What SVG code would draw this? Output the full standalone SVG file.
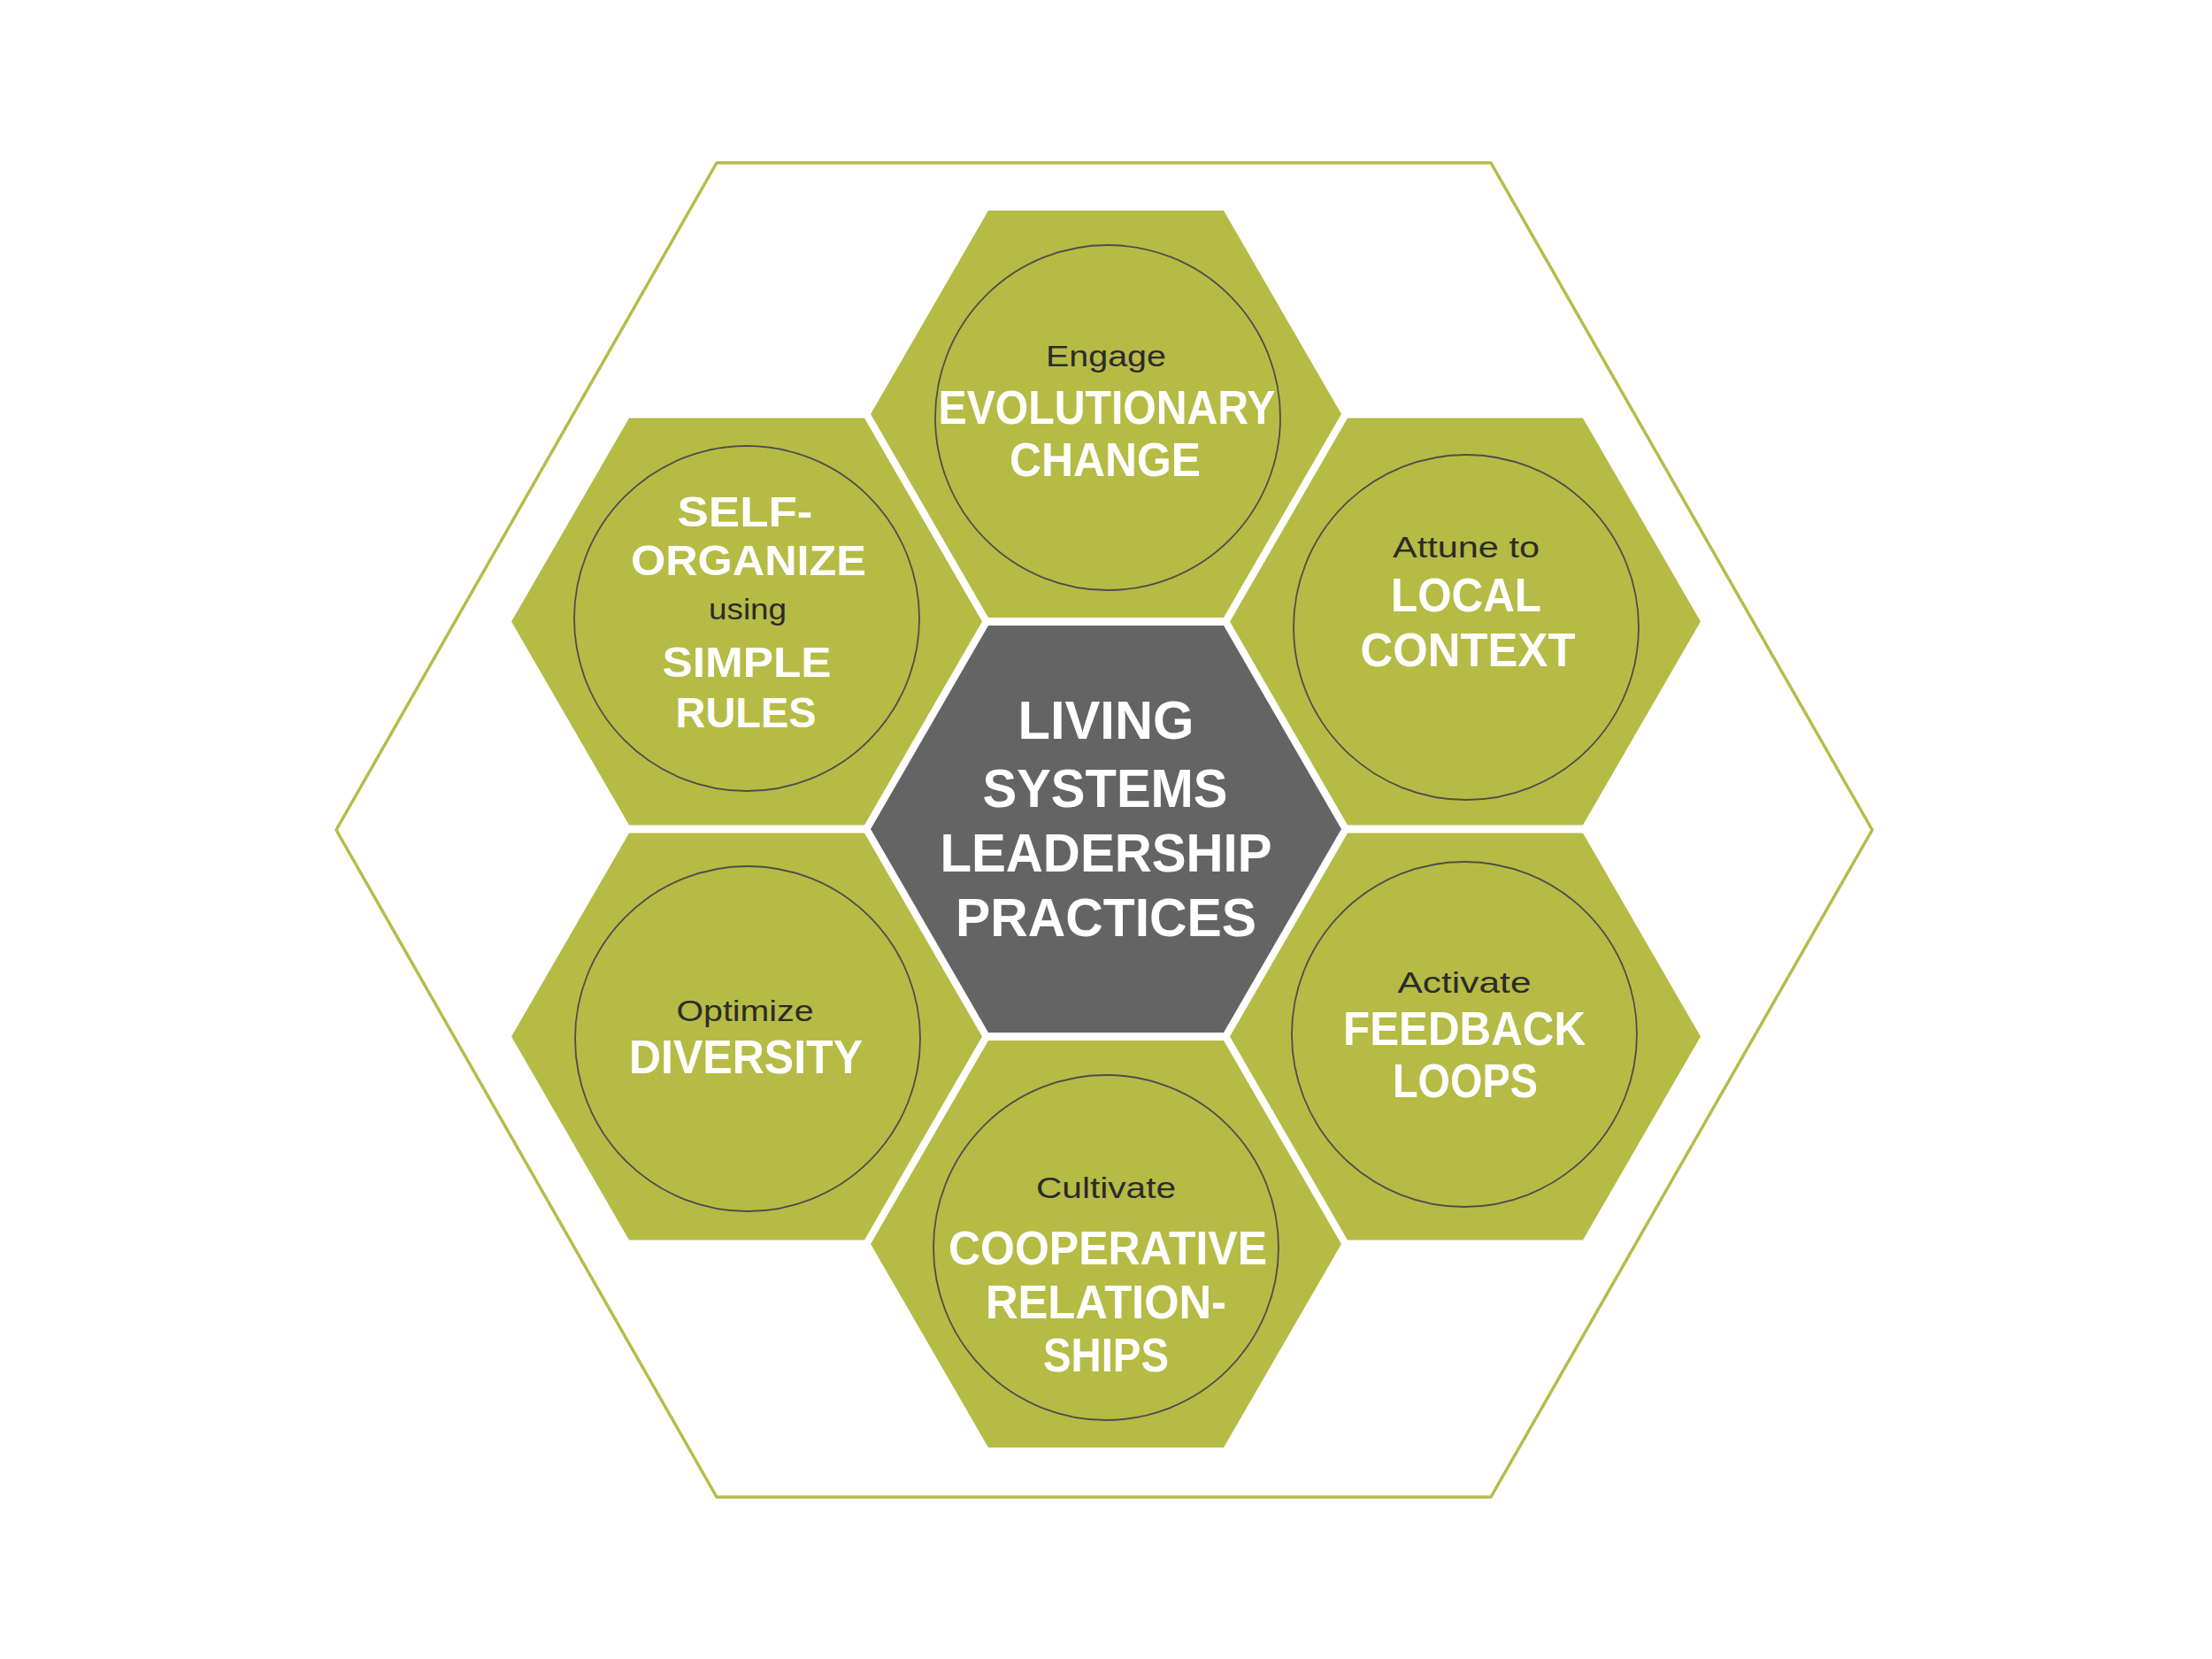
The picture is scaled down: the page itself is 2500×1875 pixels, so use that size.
<svg xmlns="http://www.w3.org/2000/svg" xmlns:xlink="http://www.w3.org/1999/xlink" width="2500" height="1875" viewBox="0 0 2500 1875">
<style>
.frame{fill:none;stroke:#b7bc47;stroke-width:3.5;stroke-linejoin:round}
.hex{fill:#b6bb45}
.core{fill:#646464}
.ring{fill:none;stroke:#4d4d4d;stroke-width:1.8}
.lead{font-family:"Liberation Sans",Arial,sans-serif;font-size:34px;fill:#2b2b2b;text-anchor:middle}
.key{font-family:"Liberation Sans",Arial,sans-serif;font-weight:bold;font-size:54px;fill:#ffffff;text-anchor:middle}
.tight{font-size:49px}
.big{font-size:62px}
</style>
<defs>
<polygon id="hx" points="-266,0 -133,-230 133,-230 266,0 133,230 -133,230"/>
</defs>
<rect width="2500" height="1875" fill="#ffffff"/>
<g id="frame">
<polygon class="frame" points="810,184 1685,184 2116,938 1685,1692 810,1692 380,938"/>
</g>
<g id="connectors"/>
<g id="evolutionary-change">
<use xlink:href="#hx" href="#hx" x="1250" y="468" class="hex"/>
<circle class="ring" cx="1252" cy="472" r="195"/>
<text class="lead" x="1250" y="414" textLength="136" lengthAdjust="spacingAndGlyphs">Engage</text>
<text class="key" x="1251" y="479" textLength="381" lengthAdjust="spacingAndGlyphs">EVOLUTIONARY</text>
<text class="key" x="1249" y="538" textLength="216" lengthAdjust="spacingAndGlyphs">CHANGE</text>
</g>
<g id="self-organize">
<use xlink:href="#hx" href="#hx" x="844" y="702.5" class="hex"/>
<circle class="ring" cx="844" cy="699" r="195"/>
<text class="key tight" x="842" y="595" textLength="153" lengthAdjust="spacingAndGlyphs">SELF-</text>
<text class="key tight" x="846" y="650" textLength="266" lengthAdjust="spacingAndGlyphs">ORGANIZE</text>
<text class="lead" x="845" y="700" textLength="88" lengthAdjust="spacingAndGlyphs">using</text>
<text class="key tight" x="844" y="765" textLength="191" lengthAdjust="spacingAndGlyphs">SIMPLE</text>
<text class="key tight" x="843" y="822" textLength="159" lengthAdjust="spacingAndGlyphs">RULES</text>
</g>
<g id="local-context">
<use xlink:href="#hx" href="#hx" x="1656" y="702.5" class="hex"/>
<circle class="ring" cx="1657" cy="709" r="195"/>
<text class="lead" x="1657" y="630" textLength="166" lengthAdjust="spacingAndGlyphs">Attune to</text>
<text class="key" x="1657" y="691" textLength="170" lengthAdjust="spacingAndGlyphs">LOCAL</text>
<text class="key" x="1659" y="753" textLength="243" lengthAdjust="spacingAndGlyphs">CONTEXT</text>
</g>
<g id="living-systems">
<use xlink:href="#hx" href="#hx" x="1250" y="937" class="core"/>
<text class="key big" x="1250" y="835" textLength="199" lengthAdjust="spacingAndGlyphs">LIVING</text>
<text class="key big" x="1249" y="912" textLength="277" lengthAdjust="spacingAndGlyphs">SYSTEMS</text>
<text class="key big" x="1250" y="985" textLength="375" lengthAdjust="spacingAndGlyphs">LEADERSHIP</text>
<text class="key big" x="1250" y="1058" textLength="340" lengthAdjust="spacingAndGlyphs">PRACTICES</text>
</g>
<g id="diversity">
<use xlink:href="#hx" href="#hx" x="844" y="1171.5" class="hex"/>
<circle class="ring" cx="845" cy="1174" r="195"/>
<text class="lead" x="842" y="1154" textLength="155" lengthAdjust="spacingAndGlyphs">Optimize</text>
<text class="key" x="843" y="1213" textLength="264" lengthAdjust="spacingAndGlyphs">DIVERSITY</text>
</g>
<g id="feedback-loops">
<use xlink:href="#hx" href="#hx" x="1656" y="1171.5" class="hex"/>
<circle class="ring" cx="1655" cy="1169" r="195"/>
<text class="lead" x="1655" y="1122" textLength="151" lengthAdjust="spacingAndGlyphs">Activate</text>
<text class="key" x="1655" y="1181" textLength="274" lengthAdjust="spacingAndGlyphs">FEEDBACK</text>
<text class="key" x="1656" y="1240" textLength="164" lengthAdjust="spacingAndGlyphs">LOOPS</text>
</g>
<g id="cooperative-relationships">
<use xlink:href="#hx" href="#hx" x="1250" y="1406" class="hex"/>
<circle class="ring" cx="1250" cy="1410" r="195"/>
<text class="lead" x="1250" y="1354" textLength="158" lengthAdjust="spacingAndGlyphs">Cultivate</text>
<text class="key" x="1252" y="1429" textLength="360" lengthAdjust="spacingAndGlyphs">COOPERATIVE</text>
<text class="key" x="1250" y="1490" textLength="272" lengthAdjust="spacingAndGlyphs">RELATION-</text>
<text class="key" x="1250" y="1550" textLength="142" lengthAdjust="spacingAndGlyphs">SHIPS</text>
</g>
</svg>
